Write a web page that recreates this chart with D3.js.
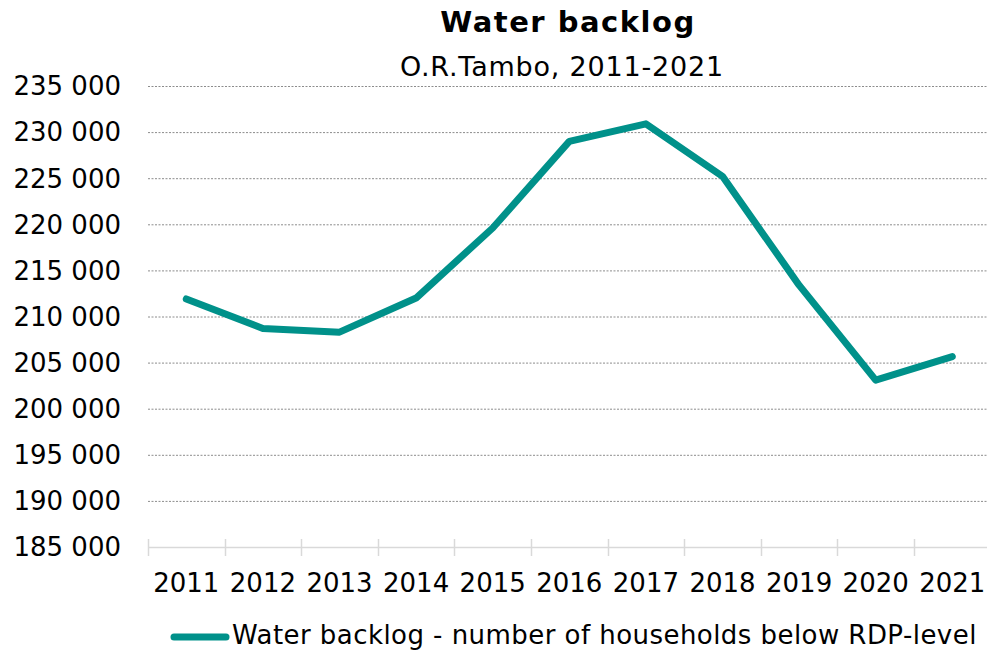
<!DOCTYPE html>
<html>
<head>
<meta charset="utf-8">
<script src="https://cdn.jsdelivr.net/npm/d3@7.9.0/dist/d3.min.js"></script>
<style>
  html, body { margin: 0; padding: 0; background: #fff; }
  svg { display: block; font-family: "DejaVu Sans", Verdana, sans-serif; }
</style>
</head>
<body>
<svg id="chart" width="987" height="650"></svg>
<script>
// Data
const years = ['2011', '2012', '2013', '2014', '2015', '2016', '2017', '2018', '2019', '2020', '2021'];
const backlog = [211900, 208700, 208300, 212000, 219600, 229000, 230900, 225200, 213400, 203100, 205650];
const yTicks = [185000, 190000, 195000, 200000, 205000, 210000, 215000, 220000, 225000, 230000, 235000];

const title = 'Water backlog';
const subtitle = 'O.R.Tambo, 2011-2021';
const seriesName = 'Water backlog - number of households below RDP-level';

const lineColor = '#00918a';

const svg = d3.select('#chart');

// Scales
const x = d3.scaleBand().domain(years).range([148, 148 + 11 * 76.6]).padding(0);
const y = d3.scaleLinear().domain([185000, 235000]).range([547, 86]);

const fmt = d3.formatLocale({ decimal: '.', thousands: ' ', grouping: [3], currency: ['', ''] }).format(',');

// Grid lines
svg.append('g')
  .selectAll('line')
  .data(yTicks.filter((d) => d !== 185000))
  .join('line')
  .attr('x1', 148)
  .attr('x2', 987)
  .attr('y1', (d) => y(d) + 0.5)
  .attr('y2', (d) => y(d) + 0.5)
  .attr('stroke', '#8c8c8c')
  .attr('stroke-width', 1)
  .attr('stroke-dasharray', '2,1.5');

// Y axis labels
svg.append('g')
  .selectAll('text')
  .data(yTicks)
  .join('text')
  .attr('x', 121)
  .attr('y', (d) => y(d))
  .attr('dy', '0.36em')
  .attr('text-anchor', 'end')
  .attr('font-size', 26)
  .attr('fill', '#000')
  .text((d) => fmt(d));

// X axis
const xg = svg.append('g').attr('transform', `translate(0,${y(185000)})`);
xg.append('line')
  .attr('x1', 148)
  .attr('x2', 987)
  .attr('y1', 0.5)
  .attr('y2', 0.5)
  .attr('stroke', '#d9d9d9')
  .attr('stroke-width', 1.5);

const boundaries = years.map((d) => x(d));
xg.selectAll('line.tick')
  .data(boundaries)
  .join('line')
  .attr('class', 'tick')
  .attr('x1', (d) => Math.round(d) + 0.5)
  .attr('x2', (d) => Math.round(d) + 0.5)
  .attr('y1', -8)
  .attr('y2', 9)
  .attr('stroke', '#d9d9d9')
  .attr('stroke-width', 1.5);

xg.selectAll('text.year')
  .data(years)
  .join('text')
  .attr('class', 'year')
  .attr('x', (d) => x(d) + x.bandwidth() / 2)
  .attr('y', 45)
  .attr('text-anchor', 'middle')
  .attr('font-size', 26)
  .attr('fill', '#000')
  .text((d) => d);

// Line
const line = d3.line()
  .x((d, i) => x(years[i]) + x.bandwidth() / 2)
  .y((d) => y(d));

svg.append('path')
  .datum(backlog)
  .attr('d', line)
  .attr('fill', 'none')
  .attr('stroke', lineColor)
  .attr('stroke-width', 7)
  .attr('stroke-linejoin', 'round')
  .attr('stroke-linecap', 'round');

// Titles
svg.append('text')
  .attr('x', 568)
  .attr('y', 32)
  .attr('text-anchor', 'middle')
  .attr('font-size', 29)
  .attr('font-weight', 'bold')
  .attr('letter-spacing', 1.5)
  .text(title);

svg.append('text')
  .attr('x', 562)
  .attr('y', 76)
  .attr('text-anchor', 'middle')
  .attr('font-size', 27)
  .attr('letter-spacing', 0.8)
  .text(subtitle);

// Legend
const legend = svg.append('g');
legend.append('line')
  .attr('x1', 174)
  .attr('x2', 226)
  .attr('y1', 637)
  .attr('y2', 637)
  .attr('stroke', lineColor)
  .attr('stroke-width', 7)
  .attr('stroke-linecap', 'round');

legend.append('text')
  .attr('x', 232)
  .attr('y', 644)
  .attr('font-size', 26)
  .attr('letter-spacing', 0.45)
  .text(seriesName);
</script>
</body>
</html>
